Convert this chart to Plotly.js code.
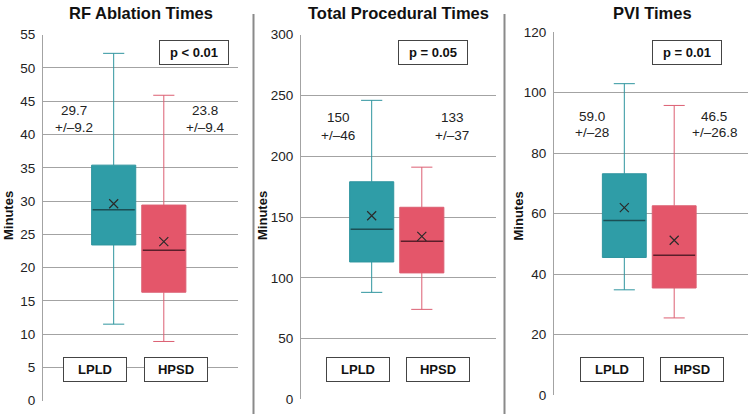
<!DOCTYPE html>
<html>
<head>
<meta charset="utf-8">
<script src="https://cdn.plot.ly/plotly-3.0.1.min.js"></script>
<style>html,body{margin:0;padding:0;background:#fff;}#chart{width:748px;height:414px;}</style>
</head>
<body>
<div id="chart"></div>
<script>
// ---- data ----
const panelTitles = ["RF Ablation Times", "Total Procedural Times", "PVI Times"];
const groups = ["LPLD", "HPSD"];
const pValues = ["p < 0.01", "p = 0.05", "p = 0.01"];
const meanText = [["29.7", "23.8"], ["150", "133"], ["59.0", "46.5"]];
const sdText   = [["+/\u20139.2", "+/\u20139.4"], ["+/\u201346", "+/\u201337"], ["+/\u201328", "+/\u201326.8"]];
// per panel: [LPLD, HPSD]
const upperWhisker = [[52.2, 45.9], [246, 191], [103, 95.8]];
const q3Values     = [[35.4, 29.4], [179, 158], [73.2, 62.6]];
const medianValues = [[28.7, 22.6], [140, 130], [57.7, 46.2]];
const q1Values     = [[23.4, 16.3], [113, 104], [45.5, 35.4]];
const lowerWhisker = [[11.5, 8.9],  [88, 74],   [34.8, 25.5]];
const meanValues   = [[29.6, 23.9], [151, 134], [62.0, 51.2]];
const yRanges = [[0, 55], [0, 300], [0, 120]];
const yDticks = [5, 50, 20];

// ---- style ----
const W = 748, H = 414;
const px = x => x / W;
const py = y => 1 - y / H;
const FONT = "Liberation Sans, Arial, Helvetica, sans-serif";
const fills = ["#2f9da7", "#e4566a"];
const lines = ["#2f959f", "#dc5f72"];
const medianColors = ["#1b4f55", "#5a1e2a"];
const boxPos = [0, 1];
const boxW = 0.88;
const xDomains = [[43, 238], [301, 496], [554, 749]];
const yDomains = [[34.7, 400.7], [34.7, 399.3], [32.3, 395]];
const titleX = [140.5, 398, 652];
const ylabX = [8, 262, 517.5];
const pBoxX = [194, 433, 687];
const msX = [[74, 205], [338, 452], [592, 714]];
const meanY = [110, 118, 117];
const sdY = [127, 135, 132];
const grpLabX = [[95, 175.5], [358, 438.5], [611.5, 691.7]];

const traces = [];
const annotations = [];
const layout = {
  width: W, height: H,
  margin: {l: 0, r: 0, t: 0, b: 0},
  paper_bgcolor: "#fff", plot_bgcolor: "rgba(0,0,0,0)",
  showlegend: false,
  font: {family: FONT, color: "#222", size: 13},
  annotations: annotations,
  shapes: [
    {type: "line", xref: "paper", yref: "paper", x0: px(253.5), x1: px(253.5), y0: 0, y1: py(14), line: {color: "#8a8a8a", width: 2}},
    {type: "line", xref: "paper", yref: "paper", x0: px(504.5), x1: px(504.5), y0: 0, y1: py(14), line: {color: "#8a8a8a", width: 2}}
  ]
};

for (let p = 0; p < 3; p++) {
  const sfx = p === 0 ? "" : String(p + 1);
  const xa = "x" + sfx, ya = "y" + sfx;
  layout["xaxis" + sfx] = {
    domain: [px(xDomains[p][0]), px(xDomains[p][1])],
    range: [-1.41, 2.48], showgrid: false, zeroline: false, showticklabels: false,
    showline: false, fixedrange: true, anchor: ya
  };
  layout["yaxis" + sfx] = {
    domain: [py(yDomains[p][1]), py(yDomains[p][0])],
    range: yRanges[p], dtick: yDticks[p], tick0: 0,
    showgrid: true, gridcolor: "#a3a3a3", gridwidth: 1,
    zeroline: false, showline: true, linecolor: "#a3a3a3", linewidth: 1,
    ticks: "", ticklabelstandoff: 4,
    tickfont: {family: FONT, size: 13.5, color: "#222"},
    anchor: xa, fixedrange: true
  };
  for (let g = 0; g < 2; g++) {
    traces.push({
      type: "box", xaxis: xa, yaxis: ya,
      x: [boxPos[g]],
      q1: [q1Values[p][g]], median: [medianValues[p][g]], q3: [q3Values[p][g]],
      lowerfence: [lowerWhisker[p][g]], upperfence: [upperWhisker[p][g]],
      width: boxW, whiskerwidth: 0.48,
      fillcolor: fills[g], line: {color: lines[g], width: 1},
      boxpoints: false, hoverinfo: "skip", name: groups[g]
    });
    traces.push({
      type: "scatter", mode: "lines", xaxis: xa, yaxis: ya,
      x: [boxPos[g] - boxW / 2 + 0.02, boxPos[g] + boxW / 2 - 0.02],
      y: [medianValues[p][g], medianValues[p][g]],
      line: {color: medianColors[g], width: 1.5}, hoverinfo: "skip"
    });
    traces.push({
      type: "scatter", mode: "markers", xaxis: xa, yaxis: ya,
      x: [boxPos[g]], y: [meanValues[p][g]],
      marker: {symbol: "x-thin", size: 9, line: {color: "#2a2a2a", width: 1.2}},
      hoverinfo: "skip"
    });
    // mean and sd text
    annotations.push({
      xref: "paper", yref: "paper", x: px(msX[p][g]), y: py(meanY[p]),
      xanchor: "center", yanchor: "middle", showarrow: false,
      text: meanText[p][g], font: {family: FONT, size: 13.5, color: "#222"}
    });
    annotations.push({
      xref: "paper", yref: "paper", x: px(msX[p][g]), y: py(sdY[p]),
      xanchor: "center", yanchor: "middle", showarrow: false,
      text: sdText[p][g], font: {family: FONT, size: 13.5, color: "#222"}
    });
    // group label box
    annotations.push({
      xref: "paper", yref: "paper", x: px(grpLabX[p][g]), y: py(369.5),
      xanchor: "center", yanchor: "middle", showarrow: false,
      text: "<b>" + groups[g] + "</b>", font: {family: FONT, size: 13, color: "#111"},
      bgcolor: "#fff", bordercolor: "#444", borderwidth: 1, borderpad: 0,
      width: 62, height: 23
    });
  }
  // panel title
  annotations.push({
    xref: "paper", yref: "paper", x: px(titleX[p]), y: py(12.5),
    xanchor: "center", yanchor: "middle", showarrow: false,
    text: "<b>" + panelTitles[p] + "</b>", font: {family: FONT, size: 16.5, color: "#111"}
  });
  // y axis title
  annotations.push({
    xref: "paper", yref: "paper", x: px(ylabX[p]), y: py(216),
    xanchor: "center", yanchor: "middle", showarrow: false, textangle: -90,
    text: "<b>Minutes</b>", font: {family: FONT, size: 13, color: "#111"}
  });
  // p-value box
  annotations.push({
    xref: "paper", yref: "paper", x: px(pBoxX[p]), y: py(52.5),
    xanchor: "center", yanchor: "middle", showarrow: false,
    text: "<b>" + pValues[p] + "</b>", font: {family: FONT, size: 13, color: "#111"},
    bgcolor: "#fff", bordercolor: "#444", borderwidth: 1, borderpad: 0,
    width: 68, height: 23
  });
}

Plotly.newPlot("chart", traces, layout, {staticPlot: true, displayModeBar: false});
</script>
</body>
</html>
